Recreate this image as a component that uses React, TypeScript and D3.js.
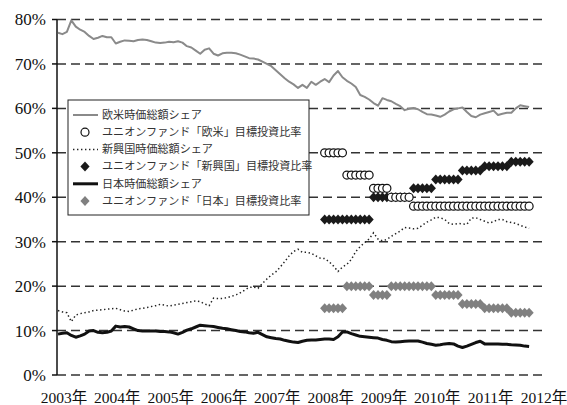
import * as d3 from 'd3'

// monthly series, Jan 2003 = index 0
const westShare = [
  77.0, 76.7, 77.2, 79.8, 78.4, 77.7, 77.2, 76.3, 75.6, 75.9, 76.3, 76.0,
  76.0, 74.6, 75.0, 75.3, 75.2, 75.1, 75.4, 75.5, 75.4, 75.1, 74.8, 74.7,
  74.8, 75.0, 74.9, 75.1, 74.8, 74.0, 73.7, 73.0, 72.3, 73.2, 73.5, 72.3,
  71.9, 72.4, 72.5, 72.5, 72.4, 72.1, 71.7, 71.3, 71.2, 71.0, 70.5, 70.0,
  69.5, 68.6, 67.7, 66.8, 66.0, 65.4, 64.6, 65.3, 64.6, 66.0, 65.3, 66.0,
  66.6, 65.9, 67.4, 68.4, 67.0, 66.2, 65.6, 64.8, 63.0, 62.6, 62.0, 61.2,
  60.6, 62.3, 61.9, 61.6, 61.0, 60.5, 59.6, 59.9, 60.1, 59.8, 59.2, 58.7,
  58.6, 58.4, 58.1, 58.6, 59.3, 59.8, 60.0, 60.2, 59.2, 58.3, 58.0, 58.6,
  58.9, 59.2, 59.5, 58.5, 58.8, 59.0, 59.0, 60.0, 60.7, 60.5, 60.3,
]
const emergingShare = [
  14.5, 14.2, 14.0, 12.0, 13.5, 13.8, 14.0, 14.2, 14.5, 14.6, 14.7, 14.8,
  14.9, 15.0, 14.7, 14.4, 14.3, 14.6, 14.9, 15.0, 15.2, 15.4, 15.6, 15.9,
  15.7, 15.5, 15.7, 15.9, 16.1, 16.3, 16.5, 16.7, 16.5, 16.0, 15.6, 17.3,
  17.2, 17.2, 17.4, 17.7, 18.0, 18.5, 19.1, 19.7, 19.8, 19.5, 20.6, 21.6,
  22.5, 23.2, 24.3, 25.5, 26.8, 27.8, 28.3, 27.6, 27.6, 27.4, 26.8, 26.3,
  26.2, 25.5, 24.5, 23.3, 24.3, 24.9, 26.0, 27.8, 28.9, 29.8, 30.6, 32.0,
  30.6, 30.2, 30.5, 31.2, 31.8, 32.4, 33.2, 33.1, 32.9, 33.0, 33.7, 34.4,
  34.9, 35.5, 35.4, 35.0, 34.1, 33.9, 34.1, 34.0, 33.9, 35.3, 35.4, 35.0,
  34.6, 34.2, 34.5, 35.0, 35.0, 34.5, 34.3, 34.1, 33.7, 33.3, 33.0,
]
const japanShare = [
  9.2, 9.4, 9.5, 8.9, 8.5, 8.8, 9.2, 9.9, 10.0, 9.6, 9.5, 9.6,
  9.9, 11.0, 10.8, 10.9, 10.8, 10.4, 10.0, 9.9, 9.9, 9.9, 9.9, 9.8,
  9.8, 9.7, 9.5, 9.2, 9.6, 10.1, 10.4, 10.8, 11.2, 11.1, 11.0, 10.9,
  10.7, 10.5, 10.4, 10.2, 10.0, 9.8, 9.7, 9.5, 9.4, 9.6, 9.1, 8.6,
  8.4, 8.2, 8.1, 7.8, 7.6, 7.4, 7.3, 7.6, 7.8, 7.9, 7.9, 8.0,
  8.1, 8.1, 8.0, 8.6, 9.7, 9.7, 9.3, 9.0, 8.7, 8.6, 8.5, 8.4,
  8.3, 8.0, 7.8, 7.5, 7.4, 7.5, 7.6, 7.65, 7.65, 7.65, 7.4, 7.1,
  6.9, 6.7, 6.8, 7.0, 7.1, 7.0, 6.5, 6.2, 6.5, 6.9, 7.3, 7.6,
  7.0, 7.0, 7.0, 7.0, 6.9, 6.9, 6.8, 6.75, 6.7, 6.5, 6.4,
]

// fund target allocation periods (month index, inclusive)
const periodStart = [60, 65, 71, 75, 80, 85, 91, 96, 102]
const periodEnd = [64, 70, 74, 79, 84, 90, 95, 101, 106]
const targetWest = [50, 45, 42, 40, 38, 38, 38, 38, 38]
const targetEmerging = [35, 35, 40, 40, 42, 44, 46, 47, 48]
const targetJapan = [15, 20, 18, 20, 20, 18, 16, 15, 14]

const yearLabels = ['2003年', '2004年', '2005年', '2006年', '2007年', '2008年', '2009年', '2010年', '2011年', '2012年']
const yTicks = [0, 10, 20, 30, 40, 50, 60, 70, 80]

const legendLabels = [
  '欧米時価総額シェア',
  'ユニオンファンド「欧米」目標投資比率',
  '新興国時価総額シェア',
  'ユニオンファンド「新興国」目標投資比率',
  '日本時価総額シェア',
  'ユニオンファンド「日本」目標投資比率',
]

const W = 567
const H = 405
const serif = '"Liberation Serif", "DejaVu Serif", "Noto Sans CJK JP", serif'
const jp = '"Noto Sans CJK JP", sans-serif'

const diamond = 'M0,-5L4.6,0L0,5L-4.6,0Z'

function expand(values: number[]) {
  const out: { m: number; v: number }[] = []
  values.forEach((v, i) => {
    d3.range(periodStart[i], periodEnd[i] + 1).forEach(m => out.push({ m, v }))
  })
  return out
}

export default function App() {
  const x = d3.scaleLinear().domain([0, 108]).range([58, 538])
  const y = d3.scaleLinear().domain([0, 80]).range([375, 19.5])

  const line = d3.line<number>()
    .x((_, i) => x(i))
    .y(d => y(d))

  const westPts = expand(targetWest)
  const emPts = expand(targetEmerging)
  const jpPts = expand(targetJapan)

  const legY = d3.scalePoint<number>().domain(d3.range(6)).range([115, 201])

  return (
    <svg width={W} height={H} style={{ position: 'absolute', left: 0, top: 0, background: '#fff' }}>
      {/* grid */}
      {yTicks.map(t => (
        <line key={'g' + t} x1={57} x2={543} y1={y(t)} y2={y(t)}
          stroke="#333" strokeWidth={1.5} strokeDasharray="9,5" />
      ))}
      {/* y axis */}
      <line x1={57} x2={57} y1={y(80)} y2={y(0)} stroke="#111" strokeWidth={1.5} />
      {yTicks.map(t => (
        <g key={'t' + t}>
          <line x1={52} x2={57} y1={y(t)} y2={y(t)} stroke="#111" strokeWidth={1.5} />
          <text x={46} y={y(t)} dy="0.35em" textAnchor="end" fontFamily={serif} fontSize={17} fill="#111">
            {t}%
          </text>
        </g>
      ))}
      {yearLabels.map((lab, i) => (
        <text key={lab} x={x(i * 12) + 6} y={403} textAnchor="middle" fontFamily={serif} fontSize={15.5} fill="#111">
          {lab}
        </text>
      ))}

      {/* lines */}
      <path d={line(westShare) || ''} fill="none" stroke="#8a8a8a" strokeWidth={2} strokeLinejoin="round" />
      <path d={line(emergingShare) || ''} fill="none" stroke="#222" strokeWidth={1.5} strokeDasharray="1.4,2.6" />
      <path d={line(japanShare) || ''} fill="none" stroke="#111" strokeWidth={3} strokeLinejoin="round" />

      {/* markers */}
      {emPts.map(p => (
        <path key={'e' + p.m} d={diamond} transform={`translate(${x(p.m)},${y(p.v)})`} fill="#1a1a1a" />
      ))}
      {jpPts.map(p => (
        <path key={'j' + p.m} d={diamond} transform={`translate(${x(p.m)},${y(p.v)})`} fill="#808080" />
      ))}
      {westPts.map(p => (
        <circle key={'w' + p.m} cx={x(p.m)} cy={y(p.v)} r={4} fill="#fff" stroke="#111" strokeWidth={1.2} />
      ))}

      {/* legend */}
      <rect x={68} y={100} width={241} height={115} fill="#fff" stroke="#222" strokeWidth={1} />
      <line x1={73} x2={98} y1={legY(0)} y2={legY(0)} stroke="#8a8a8a" strokeWidth={2} />
      <circle cx={85} cy={legY(1)} r={4} fill="#fff" stroke="#111" strokeWidth={1.2} />
      <line x1={73} x2={98} y1={legY(2)} y2={legY(2)} stroke="#222" strokeWidth={1.5} strokeDasharray="1.4,2.6" />
      <path d={diamond} transform={`translate(85,${legY(3)})`} fill="#1a1a1a" />
      <line x1={73} x2={98} y1={legY(4)} y2={legY(4)} stroke="#111" strokeWidth={3} />
      <path d={diamond} transform={`translate(85,${legY(5)})`} fill="#808080" />
      {legendLabels.map((lab, i) => (
        <text key={lab} x={102} y={legY(i)} dy="0.35em" fontFamily={jp} fontSize={11.1} fill="#333">
          {lab}
        </text>
      ))}
    </svg>
  )
}
